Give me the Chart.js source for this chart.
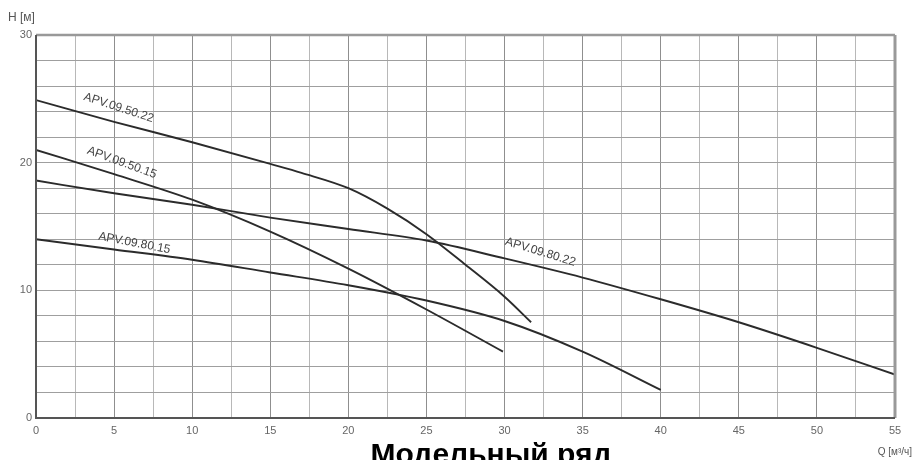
<!DOCTYPE html>
<html>
<head>
<meta charset="utf-8">
<script src="https://cdn.jsdelivr.net/npm/chart.js@4/dist/chart.umd.min.js"></script>
<style>
  html, body { margin: 0; padding: 0; background: #fff; }
  #wrap { width: 912px; height: 460px; position: relative; }
</style>
</head>
<body>
<div id="wrap"><canvas id="myChart" width="912" height="460"></canvas></div>
<script>
// Q [m3/h] / H [m] points
var qA = [0, 5, 10, 15, 17, 20, 22.5, 25, 27.5, 30, 31.7];
var hA = [24.9, 23.2, 21.6, 19.9, 19.2, 18.0, 16.4, 14.4, 12.0, 9.5, 7.5];

var qB = [0, 5, 10, 15, 20, 25, 29.9];
var hB = [21.0, 19.1, 17.1, 14.6, 11.7, 8.5, 5.2];

var qC = [0, 5, 10, 15, 20, 25, 30, 35, 40, 45, 50, 55];
var hC = [18.6, 17.6, 16.7, 15.7, 14.8, 13.9, 12.5, 11.0, 9.3, 7.5, 5.5, 3.4];

var qD = [0, 5, 10, 15, 20, 25, 30, 35, 40];
var hD = [14.0, 13.2, 12.4, 11.4, 10.4, 9.2, 7.6, 5.2, 2.2];

var names = ['APV.09.50.22', 'APV.09.50.15', 'APV.09.80.22', 'APV.09.80.15'];
// where each name sits (in Q/H units) and its tilt in degrees
var labelQ = [5.3, 5.5, 32.3, 6.3];
var labelH = [24.3, 20.0, 13.0, 13.7];
var labelAngle = [18, 20, 17, 11];

var xTicks = [0, 5, 10, 15, 20, 25, 30, 35, 40, 45, 50, 55];
var yTicks = [0, 10, 20, 30];

function pts(q, h) {
	var out = [];
	for (var i = 0; i < q.length; i++) out.push({x: q[i], y: h[i]});
	return out;
}

function curve(label, q, h) {
	return {
		label: label,
		data: pts(q, h),
		borderColor: '#2b2b2b',
		borderWidth: 1.9,
		pointRadius: 0,
		fill: false,
		cubicInterpolationMode: 'monotone'
	};
}

var extras = {
	id: 'extras',
	afterDatasetsDraw: function(chart) {
		var ctx = chart.ctx;
		var a = chart.chartArea;
		var sx = chart.scales.x, sy = chart.scales.y;
		ctx.save();
		// frame
		ctx.strokeStyle = '#999';
		ctx.lineWidth = 2.5;
		ctx.beginPath();
		ctx.moveTo(a.left, a.top);
		ctx.lineTo(a.right, a.top);
		ctx.stroke();
		ctx.lineWidth = 3;
		ctx.beginPath();
		ctx.moveTo(a.right, a.top);
		ctx.lineTo(a.right, a.bottom);
		ctx.stroke();
		ctx.strokeStyle = '#555';
		ctx.lineWidth = 2;
		ctx.beginPath();
		ctx.moveTo(a.left, a.top);
		ctx.lineTo(a.left, a.bottom);
		ctx.lineTo(a.right, a.bottom);
		ctx.stroke();

		// curve names
		ctx.fillStyle = '#444';
		ctx.font = '12px "Liberation Sans", Arial, sans-serif';
		ctx.textAlign = 'center';
		ctx.textBaseline = 'middle';
		for (var i = 0; i < names.length; i++) {
			ctx.save();
			ctx.translate(sx.getPixelForValue(labelQ[i]), sy.getPixelForValue(labelH[i]));
			ctx.rotate(labelAngle[i] * Math.PI / 180);
			ctx.fillText(names[i], 0, 0);
			ctx.restore();
		}

		// axis names
		ctx.fillStyle = '#555';
		ctx.font = '12px "Liberation Sans", Arial, sans-serif';
		ctx.textAlign = 'left';
		ctx.textBaseline = 'alphabetic';
		ctx.fillText('H [м]', 8, 21);
		ctx.font = '10px "Liberation Sans", Arial, sans-serif';
		ctx.textAlign = 'right';
		ctx.fillText('Q [м³/ч]', 912, 455);

		// title
		ctx.fillStyle = '#000';
		ctx.font = 'bold 30px "Liberation Sans", Arial, sans-serif';
		ctx.textAlign = 'center';
		ctx.fillText('Модельный ряд', 491, 464);
		ctx.restore();
	}
};

var ctx = document.getElementById('myChart').getContext('2d');

var myChart = new Chart(ctx, {
	type: 'line',
	data: {
		datasets: [
			curve(names[0], qA, hA),
			curve(names[1], qB, hB),
			curve(names[2], qC, hC),
			curve(names[3], qD, hD)
		]
	},
	options: {
		responsive: false,
		animation: false,
		layout: { padding: { left: 0, right: 17, top: 35, bottom: 0 } },
		plugins: {
			legend: { display: false },
			tooltip: { enabled: false }
		},
		scales: {
			x: {
				type: 'linear',
				min: 0,
				max: 55,
				afterBuildTicks: function(axis) {
					var t = [];
					for (var v = 0; v <= 55; v += 2.5) t.push({value: v});
					axis.ticks = t;
				},
				afterFit: function(axis) { axis.height = 42; },
				grid: {
					color: function(c) { return (c.tick && c.tick.value % 5 === 0) ? '#8f8f8f' : '#b8b8b8'; },
					lineWidth: 1,
					drawTicks: false
				},
				border: { display: false },
				ticks: {
					padding: 6,
					color: '#666',
					font: { size: 11, family: '"Liberation Sans", Arial, sans-serif' },
					maxRotation: 0,
					autoSkip: false,
					callback: function(v) { return xTicks.indexOf(v) >= 0 ? v : ''; }
				}
			},
			y: {
				min: 0,
				max: 30,
				ticks: {
					stepSize: 2,
					padding: 4,
					color: '#666',
					font: { size: 11, family: '"Liberation Sans", Arial, sans-serif' },
					callback: function(v) { return yTicks.indexOf(v) >= 0 ? v : ''; }
				},
				afterFit: function(axis) { axis.width = 36; },
				grid: { color: '#9f9f9f', lineWidth: 1, drawTicks: false },
				border: { display: false }
			}
		}
	},
	plugins: [extras]
});
</script>
</body>
</html>
